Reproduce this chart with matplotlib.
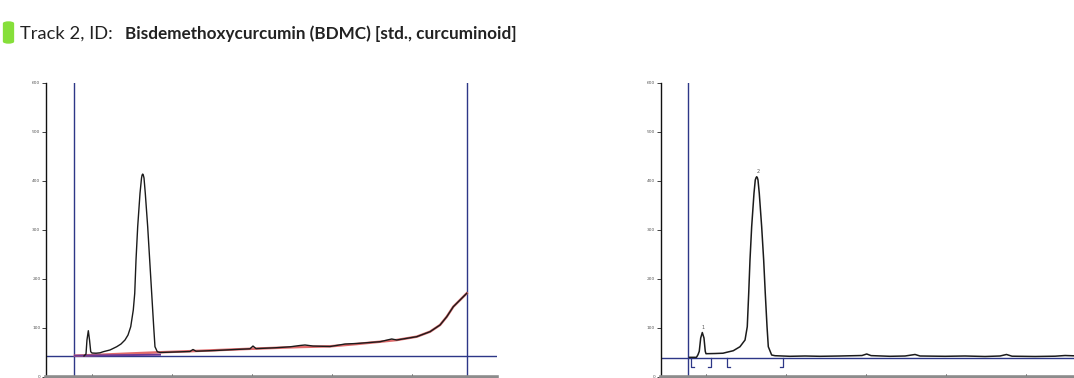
import matplotlib
matplotlib.use("Agg")
import matplotlib.pyplot as plt
from matplotlib.patches import FancyBboxPatch

# ---------------- data ----------------
# Track scan before baseline correction (position, signal in AU)
raw_pos = [9.04, 9.29, 9.41, 9.58, 9.73, 9.88, 10.04, 10.54, 11.04, 11.45, 12.29,
           13.13, 13.66, 14.16, 14.54, 14.88, 15.20, 15.38, 15.54, 15.75, 16.04,
           16.23, 16.30, 16.38, 16.45, 16.54, 16.70, 17.00, 17.25, 17.50, 17.75,
           17.91, 18.20, 18.54, 20.41, 22.29, 22.66, 23.04, 25.41, 27.91, 29.79,
           30.16, 30.54, 32.91, 34.79, 36.04, 36.66, 37.66, 39.79, 41.66, 43.13,
           46.04, 47.50, 48.13, 50.63, 52.29, 53.54, 54.38, 55.20, 56.04, 56.88]
raw_sig = [41.9, 46.0, 74.6, 93.6, 74.6, 50.7, 48.0, 47.6, 48.4, 50.7, 54.2,
           60.9, 66.4, 74.6, 84.8, 101.8, 135.9, 170.0, 238.1, 306.2, 374.5,
           405.8, 411.8, 413.9, 411.8, 405.8, 374.5, 306.2, 238.1, 170.0, 101.8,
           60.9, 50.7, 49.1, 50.1, 51.1, 55.2, 51.7, 53.1, 55.2, 56.6,
           62.3, 57.0, 58.7, 60.7, 63.4, 64.4, 62.3, 61.3, 66.4, 67.5,
           71.1, 76.7, 74.6, 81.4, 91.6, 105.3, 122.2, 142.7, 156.4, 170.1]

# Fitted baseline under the raw scan
base_pos = [7.91, 11.04, 14.79, 18.54, 23.54, 29.79, 36.04, 39.79, 43.13,
            46.04, 48.13, 50.63, 52.29, 53.54, 54.38, 55.20, 56.04, 56.88]
base_sig = [42.5, 44.4, 47.0, 49.5, 52.5, 56.6, 60.3, 61.7, 66.4,
            71.1, 74.6, 81.4, 91.6, 105.3, 122.2, 142.7, 156.4, 170.1]

# Lower baseline segment at the start of the track
low_pos = [7.91, 10.20, 18.54]
low_sig = [42.5, 43.0, 44.5]

# Baseline-corrected scan with integrated peaks
cor_pos = [7.89, 8.76, 8.95, 9.11, 9.29, 9.49, 9.70, 9.86, 9.95, 11.08, 12.08,
           12.54, 13.36, 14.20, 14.83, 15.11, 15.29, 15.45, 15.66, 15.95, 16.11,
           16.21, 16.29, 16.37, 16.45, 16.61, 16.91, 17.16, 17.36, 17.58, 17.74,
           18.16, 18.58, 20.45, 22.33, 24.20, 26.70, 29.45, 30.04, 30.58, 32.95,
           34.83, 36.08, 36.70, 39.83, 42.33, 44.83, 46.70, 47.51, 48.20, 51.08,
           53.58, 54.83, 55.95, 56.80]
cor_sig = [39.2, 39.2, 44.6, 51.5, 78.7, 89.9, 78.7, 51.5, 46.6, 47.0, 47.6,
           49.5, 52.7, 60.9, 74.6, 101.8, 170.1, 238.1, 306.2, 374.5, 401.7,
           406.5, 408.4, 406.5, 401.7, 374.5, 306.2, 238.1, 170.1, 101.8, 60.9,
           43.9, 42.5, 41.3, 41.9, 41.3, 41.9, 42.9, 46.0, 42.7, 41.3,
           41.9, 45.0, 41.9, 41.3, 41.9, 40.9, 41.9, 45.0, 41.5, 40.9,
           41.5, 42.9, 42.3, 42.0]

# Peak numbers, apex positions and integration limits (start, end)
peak_ids = ["1", "2"]
peak_pos = [9.49, 16.29]
peak_top = [89.9, 408.4]
peak_limits = [(8.04, 10.54), (12.61, 19.61)]

# Reference lines: start/front positions and baseline level per panel
track_lines = [7.75, 56.88]
level_raw = 41.9
level_cor = 38.8

y_ticks = [0, 100, 200, 300, 400, 500, 600]
x_ticks = [10, 20, 30, 40, 50]

# ---------------- figure ----------------
W, H = 1074, 378
fig = plt.figure(figsize=(W / 100, H / 100), dpi=100)
fig.patch.set_facecolor("white")

navy = "#2d3787"
trace_col = "#1b1b1b"


def setup(ax):
    ax.set_xlim(4.29, 60.66)
    ax.set_ylim(0, 600)
    for s in ("top", "right"):
        ax.spines[s].set_visible(False)
    ax.spines["left"].set_color("#111111")
    ax.spines["left"].set_linewidth(1.0)
    ax.spines["bottom"].set_color("#8c8c8c")
    ax.spines["bottom"].set_linewidth(2.6)
    ax.set_yticks(y_ticks)
    ax.set_yticklabels([str(v) for v in y_ticks])
    ax.tick_params(axis="y", length=3.0, width=0.6, pad=1.0,
                   labelsize=3.2, labelcolor="#555555", color="#222222")
    ax.set_xticks(x_ticks)
    ax.set_xticklabels([])
    ax.tick_params(axis="x", direction="in", length=2.0, width=0.7,
                   color="#333333")
    ax.set_facecolor("none")


bottom = 1.5 / H
height = 293.5 / H
ax1 = fig.add_axes([46 / W, bottom, 451 / W, height])
ax2 = fig.add_axes([660.7 / W, bottom, 451 / W, height])
setup(ax1)
setup(ax2)

# left panel: raw scan over its fitted baseline
ax1.axhline(level_raw, color=navy, lw=1.0, zorder=1)
for xv in track_lines:
    ax1.axvline(xv, color=navy, lw=1.0, zorder=1)
ax1.plot(base_pos, base_sig, color="#e06a6b", lw=1.8, zorder=2)
ax1.plot(low_pos, low_sig, color="#6b3a96", lw=1.4, zorder=2.5)
ax1.plot(raw_pos, raw_sig, color=trace_col, lw=1.0, zorder=3)

# right panel: corrected scan with peak limits
ax2.axhline(level_cor, color=navy, lw=1.0, zorder=1)
for xv in track_lines:
    ax2.axvline(xv, color=navy, lw=1.0, zorder=1)
ax2.plot(cor_pos, cor_sig, color=trace_col, lw=1.1, zorder=3)
for start, end in peak_limits:
    ax2.plot([start, start, start + 0.4], [level_cor, 20, 20],
             color=navy, lw=0.9, zorder=2)
    ax2.plot([end, end, end - 0.4], [level_cor, 20, 20],
             color=navy, lw=0.9, zorder=2)
for pid, px, py in zip(peak_ids, peak_pos, peak_top):
    ax2.text(px + 0.15, py + 6, pid, fontsize=3.6, color="#555555",
             ha="center", va="bottom")

# header
fig.patches.append(FancyBboxPatch((5 / W, (H - 43) / H), 7 / W, 21 / H,
                                  boxstyle="round,pad=0.002,rounding_size=0.006",
                                  transform=fig.transFigure,
                                  facecolor="#86df3a", edgecolor="none"))
fig.text(20 / W, (H - 39) / H, "Track 2, ID:", fontsize=13.2,
         family="Lato", color="#222222", va="baseline")
fig.text(125 / W, (H - 39) / H, "Bisdemethoxycurcumin (BDMC) [std., curcuminoid]",
         fontsize=12.3, family="Lato", fontweight="bold", color="#222222",
         va="baseline")

fig.savefig("out.png", dpi=100, facecolor="white")
